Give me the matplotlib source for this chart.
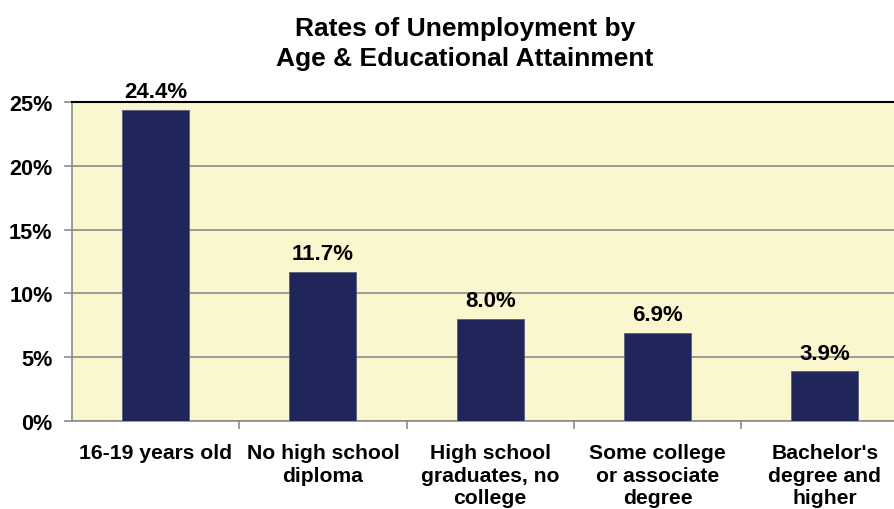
import matplotlib
matplotlib.use("Agg")
import matplotlib.pyplot as plt
from matplotlib.ticker import FixedLocator, NullFormatter

plt.rcParams['font.family'] = ['Liberation Sans', 'DejaVu Sans']
plt.rcParams['font.weight'] = 'bold'

categories = ["16-19 years old", "No high school\ndiploma", "High school\ngraduates, no\ncollege",
              "Some college\nor associate\ndegree", "Bachelor's\ndegree and\nhigher"]
values = [24.4, 11.7, 8.0, 6.9, 3.9]
value_labels = ["24.4%", "11.7%", "8.0%", "6.9%", "3.9%"]
yticks = [0, 5, 10, 15, 20, 25]
ytick_labels = ["0%", "5%", "10%", "15%", "20%", "25%"]

W, H = 895, 510
fig = plt.figure(figsize=(W/100, H/100), dpi=100)
left_px, right_px, top_px, bot_px = 72, 72 + 5*167.3, 103, 422
ax = fig.add_axes([left_px/W, 1 - bot_px/H, (right_px-left_px)/W, (bot_px-top_px)/H])
ax.set_facecolor('#FAF6CE')

x = list(range(len(categories)))
ax.bar(x, values, width=0.4, color='#20265A', edgecolor='#5a5f80', linewidth=0.6, zorder=3)
for xi, v, lab in zip(x, values, value_labels):
    ax.annotate(lab, (xi, v), xytext=(0, 5.5), textcoords='offset points',
                ha='center', va='bottom', fontsize=16, fontweight='bold')

ax.set_xlim(-0.5, 4.5)
ax.set_ylim(0, 25)
ax.set_yticks(yticks)
ax.set_yticklabels(ytick_labels, fontsize=15.6, fontweight='bold')
ax.yaxis.grid(True, color='#8c8c8c', linewidth=1.2, zorder=1)
ax.set_axisbelow(True)

ax.set_xticks(x)
ax.set_xticklabels(categories, fontsize=15.2, fontweight='bold', linespacing=1.24)
ax.xaxis.set_minor_locator(FixedLocator([0.5, 1.5, 2.5, 3.5]))
ax.xaxis.set_minor_formatter(NullFormatter())
ax.tick_params(axis='x', which='major', length=0, pad=16)
ax.tick_params(axis='x', which='minor', length=6, color='#8c8c8c', width=1.2)
ax.tick_params(axis='y', length=6, color='#8c8c8c', width=1.2, pad=8)

ax.spines['top'].set_color('black')
ax.spines['top'].set_linewidth(1.5)
ax.spines['left'].set_color('#8c8c8c')
ax.spines['left'].set_linewidth(1.2)
ax.spines['bottom'].set_color('#8c8c8c')
ax.spines['bottom'].set_linewidth(1.2)
ax.spines['right'].set_visible(False)

fig.text(465/W, 1 - 44/H, "Rates of Unemployment by\nAge & Educational Attainment",
         ha='center', va='center', fontsize=19, fontweight='bold', linespacing=1.34)

fig.savefig("out.png", dpi=100)
